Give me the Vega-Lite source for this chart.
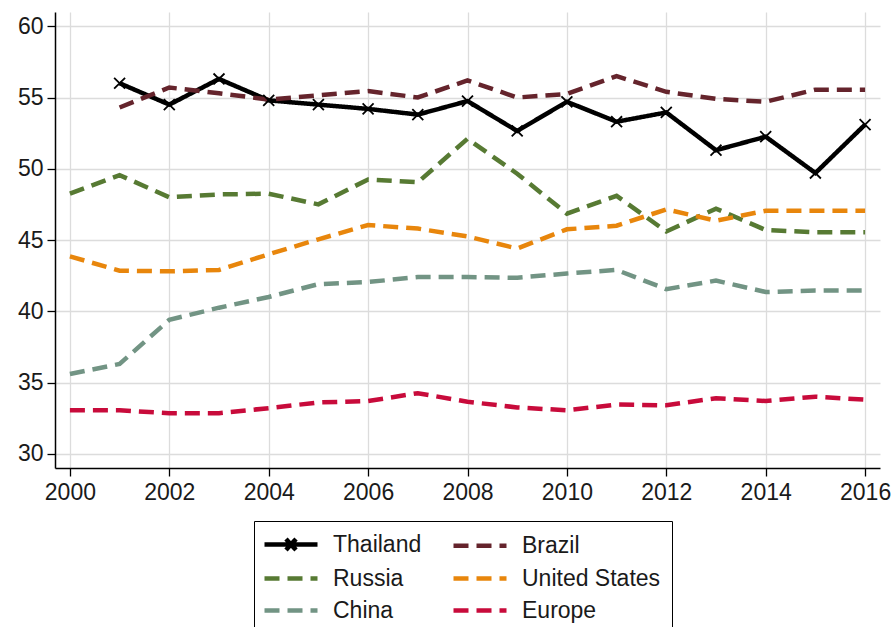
{
  "$schema": "https://vega.github.io/schema/vega-lite/v6.json",
  "width": 825,
  "height": 456,
  "autosize": {"type": "none"},
  "padding": {"left": 55, "top": 12, "right": 12, "bottom": 159},
  "background": "white",
  "config": {
    "font": "Liberation Sans",
    "view": {"stroke": null},
    "axis": {
      "labelFont": "Liberation Sans",
      "labelFontSize": 23,
      "labelColor": "#1a1a1a",
      "domainColor": "#000000",
      "domainWidth": 1.5,
      "tickColor": "#000000",
      "tickWidth": 1.3,
      "tickSize": 8,
      "gridColor": "#dcdcdc",
      "gridWidth": 1.3,
      "title": null
    }
  },
  "data": {
    "values": [
      {"country": "Thailand", "year": 2001, "value": 56.0},
      {"country": "Thailand", "year": 2002, "value": 54.5},
      {"country": "Thailand", "year": 2003, "value": 56.3},
      {"country": "Thailand", "year": 2004, "value": 54.8},
      {"country": "Thailand", "year": 2005, "value": 54.5},
      {"country": "Thailand", "year": 2006, "value": 54.2},
      {"country": "Thailand", "year": 2007, "value": 53.8},
      {"country": "Thailand", "year": 2008, "value": 54.75},
      {"country": "Thailand", "year": 2009, "value": 52.65},
      {"country": "Thailand", "year": 2010, "value": 54.7},
      {"country": "Thailand", "year": 2011, "value": 53.3},
      {"country": "Thailand", "year": 2012, "value": 53.95},
      {"country": "Thailand", "year": 2013, "value": 51.3},
      {"country": "Thailand", "year": 2014, "value": 52.25},
      {"country": "Thailand", "year": 2015, "value": 49.7},
      {"country": "Thailand", "year": 2016, "value": 53.1},
      {"country": "Brazil", "year": 2001, "value": 54.3},
      {"country": "Brazil", "year": 2002, "value": 55.7},
      {"country": "Brazil", "year": 2003, "value": 55.3},
      {"country": "Brazil", "year": 2004, "value": 54.85},
      {"country": "Brazil", "year": 2005, "value": 55.15},
      {"country": "Brazil", "year": 2006, "value": 55.45},
      {"country": "Brazil", "year": 2007, "value": 55.0},
      {"country": "Brazil", "year": 2008, "value": 56.2},
      {"country": "Brazil", "year": 2009, "value": 55.0},
      {"country": "Brazil", "year": 2010, "value": 55.25},
      {"country": "Brazil", "year": 2011, "value": 56.5},
      {"country": "Brazil", "year": 2012, "value": 55.4},
      {"country": "Brazil", "year": 2013, "value": 54.9},
      {"country": "Brazil", "year": 2014, "value": 54.7},
      {"country": "Brazil", "year": 2015, "value": 55.55},
      {"country": "Brazil", "year": 2016, "value": 55.55},
      {"country": "Russia", "year": 2000, "value": 48.25},
      {"country": "Russia", "year": 2001, "value": 49.55},
      {"country": "Russia", "year": 2002, "value": 48.0},
      {"country": "Russia", "year": 2003, "value": 48.2},
      {"country": "Russia", "year": 2004, "value": 48.25},
      {"country": "Russia", "year": 2005, "value": 47.5},
      {"country": "Russia", "year": 2006, "value": 49.25},
      {"country": "Russia", "year": 2007, "value": 49.05},
      {"country": "Russia", "year": 2008, "value": 52.1},
      {"country": "Russia", "year": 2009, "value": 49.65},
      {"country": "Russia", "year": 2010, "value": 46.85},
      {"country": "Russia", "year": 2011, "value": 48.1},
      {"country": "Russia", "year": 2012, "value": 45.6},
      {"country": "Russia", "year": 2013, "value": 47.2},
      {"country": "Russia", "year": 2014, "value": 45.7},
      {"country": "Russia", "year": 2015, "value": 45.55},
      {"country": "Russia", "year": 2016, "value": 45.55},
      {"country": "United States", "year": 2000, "value": 43.85},
      {"country": "United States", "year": 2001, "value": 42.85},
      {"country": "United States", "year": 2002, "value": 42.8},
      {"country": "United States", "year": 2003, "value": 42.9},
      {"country": "United States", "year": 2004, "value": 44.0},
      {"country": "United States", "year": 2005, "value": 45.05},
      {"country": "United States", "year": 2006, "value": 46.05},
      {"country": "United States", "year": 2007, "value": 45.8},
      {"country": "United States", "year": 2008, "value": 45.25},
      {"country": "United States", "year": 2009, "value": 44.4},
      {"country": "United States", "year": 2010, "value": 45.75},
      {"country": "United States", "year": 2011, "value": 46.0},
      {"country": "United States", "year": 2012, "value": 47.15},
      {"country": "United States", "year": 2013, "value": 46.35},
      {"country": "United States", "year": 2014, "value": 47.05},
      {"country": "United States", "year": 2015, "value": 47.05},
      {"country": "United States", "year": 2016, "value": 47.05},
      {"country": "China", "year": 2000, "value": 35.6},
      {"country": "China", "year": 2001, "value": 36.3},
      {"country": "China", "year": 2002, "value": 39.4},
      {"country": "China", "year": 2003, "value": 40.25},
      {"country": "China", "year": 2004, "value": 41.0},
      {"country": "China", "year": 2005, "value": 41.9},
      {"country": "China", "year": 2006, "value": 42.05},
      {"country": "China", "year": 2007, "value": 42.4},
      {"country": "China", "year": 2008, "value": 42.4},
      {"country": "China", "year": 2009, "value": 42.35},
      {"country": "China", "year": 2010, "value": 42.65},
      {"country": "China", "year": 2011, "value": 42.9},
      {"country": "China", "year": 2012, "value": 41.55},
      {"country": "China", "year": 2013, "value": 42.15},
      {"country": "China", "year": 2014, "value": 41.35},
      {"country": "China", "year": 2015, "value": 41.45},
      {"country": "China", "year": 2016, "value": 41.45},
      {"country": "Europe", "year": 2000, "value": 33.05},
      {"country": "Europe", "year": 2001, "value": 33.05},
      {"country": "Europe", "year": 2002, "value": 32.85},
      {"country": "Europe", "year": 2003, "value": 32.85},
      {"country": "Europe", "year": 2004, "value": 33.2},
      {"country": "Europe", "year": 2005, "value": 33.6},
      {"country": "Europe", "year": 2006, "value": 33.7},
      {"country": "Europe", "year": 2007, "value": 34.25},
      {"country": "Europe", "year": 2008, "value": 33.65},
      {"country": "Europe", "year": 2009, "value": 33.25},
      {"country": "Europe", "year": 2010, "value": 33.05},
      {"country": "Europe", "year": 2011, "value": 33.45},
      {"country": "Europe", "year": 2012, "value": 33.4},
      {"country": "Europe", "year": 2013, "value": 33.9},
      {"country": "Europe", "year": 2014, "value": 33.7},
      {"country": "Europe", "year": 2015, "value": 34.0},
      {"country": "Europe", "year": 2016, "value": 33.8}
    ]
  },
  "encoding": {
    "x": {
      "field": "year",
      "type": "quantitative",
      "scale": {"domain": [1999.7, 2016.3], "nice": false, "zero": false},
      "axis": {"values": [2000, 2002, 2004, 2006, 2008, 2010, 2012, 2014, 2016], "format": "d", "labelPadding": 5}
    },
    "y": {
      "field": "value",
      "type": "quantitative",
      "scale": {"domain": [29, 61], "nice": false, "zero": false},
      "axis": {"values": [30, 35, 40, 45, 50, 55, 60], "labelPadding": 4}
    }
  },
  "layer": [
    {
      "mark": {"type": "line", "strokeWidth": 4.5, "strokeJoin": "miter"},
      "encoding": {
        "color": {
          "field": "country",
          "type": "nominal",
          "scale": {
            "domain": ["Thailand", "Brazil", "Russia", "United States", "China", "Europe"],
            "range": ["#000000", "#65242c", "#577a33", "#e8860c", "#729484", "#c80b3b"]
          },
          "legend": {
            "title": null,
            "orient": "none",
            "legendX": 199,
            "legendY": 509,
            "direction": "horizontal",
            "columns": 2,
            "columnPadding": 22,
            "rowPadding": 7,
            "padding": 11,
            "strokeColor": "#000000",
            "labelFont": "Liberation Sans",
            "labelFontSize": 23,
            "labelColor": "#1a1a1a",
            "labelOffset": 43,
            "symbolType": "M-1.3,0L4.0,0",
            "symbolSize": 400,
            "symbolStrokeWidth": 4.5,
            "symbolDash": [12, 7],
            "encode": {
              "symbols": {
                "update": {
                  "shape": {"signal": "datum.value === 'Thailand' ? 'M-1.3,0L4.0,0M0.85,-0.55L1.85,0.55M0.85,0.55L1.85,-0.55' : 'M-1.3,0L4.0,0'"},
                  "strokeDash": {"signal": "datum.value === 'Thailand' ? [1, 0] : [12, 7]"}
                }
              }
            }
          }
        },
        "strokeDash": {
          "field": "country",
          "type": "nominal",
          "scale": {
            "domain": ["Thailand", "Brazil", "Russia", "United States", "China", "Europe"],
            "range": [[1, 0], [15, 8], [15, 8], [15, 8], [15, 8], [15, 8]]
          },
          "legend": null
        },
        "detail": {"field": "country"}
      }
    },
    {
      "transform": [{"filter": "datum.country === 'Thailand'"}],
      "mark": {
        "type": "point",
        "shape": "M-1,-1L1,1M-1,1L1,-1",
        "size": 120,
        "filled": false,
        "color": "#000000",
        "strokeWidth": 1.8,
        "opacity": 1
      }
    }
  ]
}
